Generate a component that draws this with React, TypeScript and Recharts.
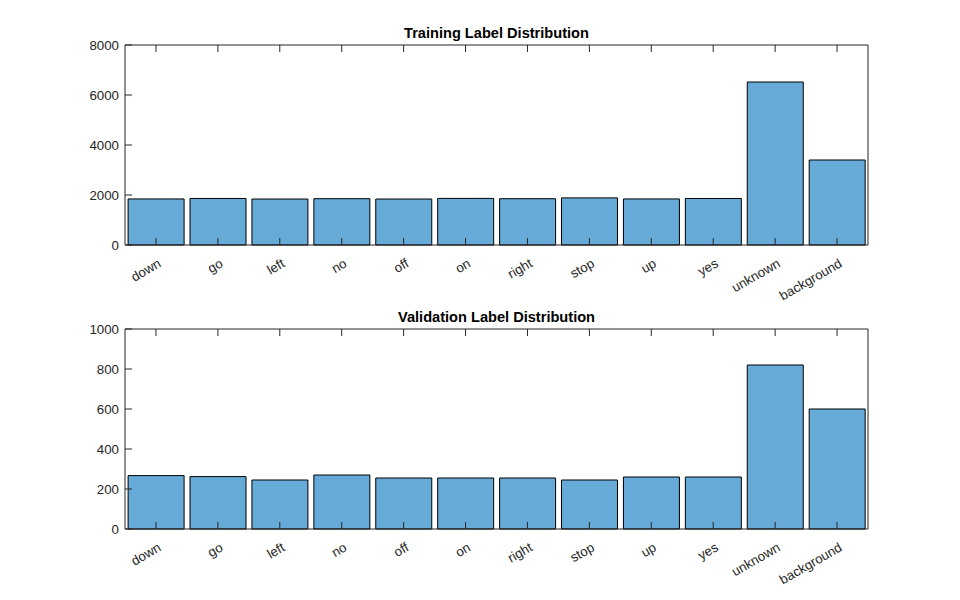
import { BarChart, Bar, XAxis, YAxis } from 'recharts'

const labels = ['down', 'go', 'left', 'no', 'off', 'on', 'right', 'stop', 'up', 'yes', 'unknown', 'background']
const trainCounts = [1842, 1861, 1839, 1853, 1839, 1864, 1852, 1885, 1843, 1860, 6520, 3400]
const valCounts = [267, 262, 245, 270, 255, 255, 255, 245, 260, 260, 820, 600]
const trainTicks = [0, 2000, 4000, 6000, 8000]
const valTicks = [0, 200, 400, 600, 800, 1000]

const AXIS = '#262626'
const FONT = '"Liberation Sans", Arial, Helvetica, sans-serif'
const BAR = '#66AAD7'
const TICK_LEN = 7

const BottomTick = (props: any) => {
  const { x, y, payload } = props
  const ax = x + 6
  const ay = y + 21
  return (
    <g>
      <line x1={x} y1={y} x2={x} y2={y - TICK_LEN} stroke={AXIS} />
      <text
        x={ax}
        y={ay}
        transform={`rotate(-30 ${ax} ${ay})`}
        textAnchor="end"
        fontSize={13.3}
        fontFamily={FONT}
        fill={AXIS}
      >
        {payload.value}
      </text>
    </g>
  )
}

const TopTick = (props: any) => {
  const { x, y } = props
  return <line x1={x} y1={y} x2={x} y2={y + TICK_LEN} stroke={AXIS} />
}

const LeftTick = (props: any) => {
  const { x, y, payload } = props
  return (
    <g>
      <line x1={x} y1={y} x2={x + TICK_LEN} y2={y} stroke={AXIS} />
      <text x={x - 6} y={y} dy="0.35em" textAnchor="end" fontSize={13.3} fontFamily={FONT} fill={AXIS}>
        {payload.value}
      </text>
    </g>
  )
}

const RightTick = (props: any) => {
  const { x, y } = props
  return <line x1={x} y1={y} x2={x - TICK_LEN} y2={y} stroke={AXIS} />
}

function Panel({ values, ticks, top, bottom }: { values: number[]; ticks: number[]; top: number; bottom: number }) {
  const data = labels.map((label, i) => ({ label, count: values[i] }))
  const max = ticks[ticks.length - 1]
  return (
    <BarChart
      width={960}
      height={300 + 20}
      data={data}
      margin={{ top: top - 1, right: 91, bottom: bottom + 20 - 1, left: 124 }}
      barCategoryGap="5%"
    >
      <XAxis
        dataKey="label"
        height={1}
        tickSize={0}
        tickMargin={0}
        stroke={AXIS}
        tick={BottomTick}
        tickLine={false}
        interval={0}
      />
      <XAxis
        xAxisId="top"
        dataKey="label"
        orientation="top"
        height={1}
        tickSize={0}
        tickMargin={0}
        stroke={AXIS}
        tick={TopTick}
        tickLine={false}
        interval={0}
      />
      <YAxis
        width={1}
        domain={[0, max]}
        ticks={ticks}
        tickSize={0}
        tickMargin={0}
        stroke={AXIS}
        tick={LeftTick}
        tickLine={false}
        interval={0}
      />
      <YAxis
        yAxisId="right"
        orientation="right"
        width={1}
        domain={[0, max]}
        ticks={ticks}
        tickSize={0}
        tickMargin={0}
        stroke={AXIS}
        tick={RightTick}
        tickLine={false}
        interval={0}
      />
      <Bar dataKey="count" fill={BAR} stroke="#000" strokeWidth={1} isAnimationActive={false} />
    </BarChart>
  )
}

export default function App() {
  return (
    <div style={{ position: 'absolute', left: 0, top: 0, width: 960, height: 600, background: '#fff', overflow: 'hidden' }}>
      <div style={{ position: 'absolute', left: 0, top: 0 }}>
        <Panel values={trainCounts} ticks={trainTicks} top={45} bottom={55} />
      </div>
      <div style={{ position: 'absolute', left: 0, top: 300 }}>
        <Panel values={valCounts} ticks={valTicks} top={29} bottom={71} />
      </div>
      <svg width={960} height={600} style={{ position: 'absolute', left: 0, top: 0, pointerEvents: 'none' }}>
        <text x={496.5} y={37.5} textAnchor="middle" fontSize={14.6} fontWeight="bold" fontFamily={FONT} fill="#000">
          Training Label Distribution
        </text>
        <text x={496.5} y={321.5} textAnchor="middle" fontSize={14.6} fontWeight="bold" fontFamily={FONT} fill="#000">
          Validation Label Distribution
        </text>
      </svg>
    </div>
  )
}
